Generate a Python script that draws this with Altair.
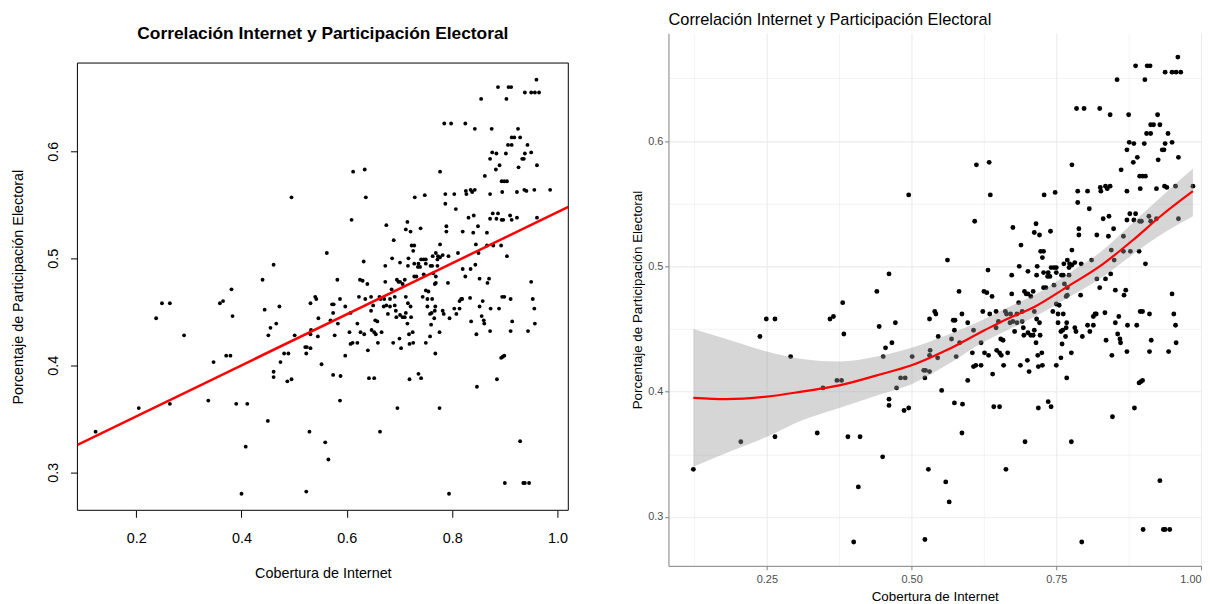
import altair as alt
import pandas as pd

# ---- data ----
cobertura = [
    0.461, 0.440, 0.249, 0.264, 0.359, 0.365, 0.381, 0.238, 0.444, 0.472, 0.383, 0.466, 0.455, 0.451, 0.291,
    0.371, 0.379, 0.347, 0.474, 0.461, 0.461, 0.205, 0.264, 0.337, 0.390, 0.411, 0.123, 0.450, 0.408, 0.400,
    0.612, 0.634, 0.495, 0.636, 0.729, 0.609, 0.675, 0.715, 0.712, 0.721, 0.689, 0.723, 0.728, 0.726, 0.562,
    0.632, 0.686, 0.701, 0.717, 0.673, 0.716, 0.728, 0.582, 0.625, 0.630, 0.639, 0.673, 0.695, 0.698, 0.701,
    0.706, 0.710, 0.685, 0.728, 0.540, 0.542, 0.587, 0.623, 0.635, 0.646, 0.662, 0.664, 0.671, 0.682, 0.691,
    0.712,
    0.531, 0.572, 0.575, 0.597, 0.574, 0.546, 0.607, 0.569, 0.583, 0.620, 0.501, 0.532, 0.531, 0.524, 0.521,
    0.531, 0.523, 0.545, 0.577, 0.605, 0.481, 0.489, 0.495, 0.487, 0.552, 0.597, 0.574, 0.588, 0.587, 0.529,
    0.559, 0.565, 0.523, 0.663, 0.696, 0.642, 0.652, 0.719, 0.640, 0.607, 0.611, 0.620, 0.626, 0.633, 0.647,
    0.652, 0.655, 0.666, 0.659, 0.654, 0.658, 0.646, 0.650, 0.670, 0.675, 0.682, 0.691, 0.678, 0.693, 0.694,
    0.701, 0.706, 0.710, 0.715, 0.712, 0.722, 0.725, 0.716, 0.721, 0.700, 0.703, 0.688, 0.718, 0.719, 0.726,
    0.960, 0.887, 0.907, 0.912, 0.938, 0.950, 0.957, 0.965, 0.855, 0.903, 0.785, 0.798, 0.825, 0.843, 0.875,
    0.925, 0.913, 0.918, 0.929, 0.906, 0.913, 0.943, 0.876, 0.884, 0.902, 0.938, 0.950, 0.933, 0.936, 0.872,
    0.890, 0.961, 0.883, 0.926, 0.777, 0.862, 0.894, 0.899, 0.904, 0.748, 0.787, 0.804, 0.826, 0.827, 0.835,
    0.838, 0.843, 0.872, 0.895, 0.923, 0.937, 0.941, 0.956, 0.986,
    0.787, 0.807, 0.740, 0.789, 0.789, 0.820, 0.831, 0.841, 0.849, 0.840, 0.866, 0.872, 0.877, 0.887, 0.884,
    0.894, 0.897, 0.910, 0.913, 0.923, 0.961, 0.777, 0.845, 0.866, 0.878, 0.893, 0.850, 0.811, 0.793, 0.769,
    0.763, 0.773, 0.772, 0.782, 0.777, 0.904, 0.741, 0.746, 0.750, 0.736, 0.735, 0.739, 0.750, 0.759, 0.762,
    0.772, 0.746, 0.764, 0.732, 0.769, 0.820, 0.835, 0.844, 0.825, 0.852, 0.870, 0.867, 0.792, 0.767, 0.769,
    0.750, 0.755, 0.744, 0.753, 0.762, 0.753, 0.768, 0.767, 0.761, 0.758, 0.766, 0.760, 0.782, 0.784, 0.776,
    0.795, 0.804, 0.808, 0.814, 0.814, 0.817, 0.819, 0.834, 0.858, 0.852, 0.873, 0.889, 0.895, 0.899, 0.911,
    0.953, 0.950, 0.956, 0.957, 0.944, 0.911, 0.914, 0.856, 0.860, 0.861, 0.836, 0.872, 0.846,
    0.758, 0.750, 0.768, 0.893, 0.896, 0.899, 0.736, 0.741, 0.847, 0.885, 0.776, 0.929, 0.900, 0.935, 0.938,
    0.946, 0.794,
]
participacion = [
    0.494, 0.480, 0.458, 0.458, 0.458, 0.460, 0.471, 0.444, 0.452, 0.455, 0.446, 0.439, 0.435, 0.428, 0.428,
    0.409, 0.409, 0.403, 0.403, 0.394, 0.389, 0.360, 0.364, 0.367, 0.364, 0.364, 0.338, 0.348, 0.324, 0.280,
    0.581, 0.583, 0.557, 0.557, 0.557, 0.536, 0.531, 0.534, 0.527, 0.525, 0.517, 0.512, 0.512, 0.507, 0.505,
    0.497, 0.500, 0.496, 0.500, 0.493, 0.493, 0.495, 0.480, 0.480, 0.479, 0.476, 0.478, 0.480, 0.478, 0.478,
    0.476, 0.480, 0.471, 0.483, 0.464, 0.462, 0.462, 0.464, 0.462, 0.464, 0.464, 0.462, 0.462, 0.462, 0.464,
    0.464,
    0.458, 0.457, 0.457, 0.455, 0.449, 0.444, 0.449, 0.442, 0.439, 0.439, 0.428, 0.433, 0.429, 0.417, 0.417,
    0.416, 0.411, 0.427, 0.428, 0.431, 0.411, 0.411, 0.387, 0.385, 0.401, 0.409, 0.391, 0.390, 0.367, 0.338,
    0.328, 0.312, 0.282, 0.338, 0.360, 0.388, 0.388, 0.387, 0.414, 0.420, 0.421, 0.421, 0.431, 0.429, 0.433,
    0.431, 0.429, 0.431, 0.421, 0.442, 0.441, 0.451, 0.456, 0.455, 0.456, 0.455, 0.456, 0.448, 0.451, 0.445,
    0.447, 0.445, 0.445, 0.439, 0.449, 0.445, 0.431, 0.458, 0.455, 0.425, 0.416, 0.421, 0.429, 0.420, 0.421,
    0.667, 0.660, 0.660, 0.660, 0.655, 0.655, 0.655, 0.655, 0.649, 0.649, 0.626, 0.626, 0.626, 0.621, 0.621,
    0.621, 0.613, 0.613, 0.613, 0.606, 0.606, 0.606, 0.599, 0.598, 0.598, 0.598, 0.599, 0.593, 0.593, 0.593,
    0.587, 0.587, 0.583, 0.585, 0.581, 0.577, 0.572, 0.572, 0.572, 0.559, 0.560, 0.560, 0.563, 0.560, 0.564,
    0.562, 0.564, 0.560, 0.562, 0.562, 0.564, 0.563, 0.564, 0.564,
    0.551, 0.546, 0.528, 0.530, 0.525, 0.525, 0.538, 0.540, 0.530, 0.524, 0.524, 0.537, 0.542, 0.542, 0.537,
    0.536, 0.536, 0.540, 0.536, 0.538, 0.538, 0.513, 0.513, 0.512, 0.512, 0.512, 0.505, 0.505, 0.502, 0.505,
    0.502, 0.502, 0.499, 0.503, 0.501, 0.502, 0.499, 0.499, 0.499, 0.495, 0.492, 0.492, 0.495, 0.493, 0.493,
    0.493, 0.485, 0.486, 0.483, 0.483, 0.490, 0.490, 0.494, 0.483, 0.481, 0.481, 0.477, 0.477, 0.476, 0.477,
    0.470, 0.469, 0.464, 0.462, 0.462, 0.455, 0.455, 0.451, 0.449, 0.448, 0.444, 0.438, 0.451, 0.448, 0.431,
    0.444, 0.453, 0.448, 0.453, 0.460, 0.462, 0.462, 0.463, 0.460, 0.455, 0.453, 0.453, 0.464, 0.464, 0.462,
    0.462, 0.478, 0.453, 0.439, 0.432, 0.432, 0.441, 0.446, 0.442, 0.439, 0.441, 0.432, 0.429,
    0.427, 0.421, 0.411, 0.407, 0.408, 0.409, 0.392, 0.388, 0.380, 0.387, 0.360, 0.329, 0.290, 0.290, 0.290,
    0.290, 0.280,
]

# smoothed curve (loess) and its confidence band
fit_x = [0.123, 0.18, 0.25, 0.31, 0.375, 0.44, 0.50, 0.56, 0.626, 0.665, 0.7135, 0.77, 0.828, 0.885, 0.93, 0.986]
fit_y = [0.395, 0.394, 0.396, 0.400, 0.405, 0.413, 0.421, 0.433, 0.449, 0.458, 0.468, 0.484, 0.501, 0.522, 0.540, 0.560]
fit_lo = [0.340, 0.351, 0.364, 0.377, 0.387, 0.397, 0.406, 0.421, 0.440, 0.449, 0.460, 0.475, 0.491, 0.5105, 0.525, 0.540]
fit_hi = [0.450, 0.442, 0.432, 0.426, 0.424, 0.428, 0.435, 0.445, 0.458, 0.467, 0.4775, 0.494, 0.512, 0.536, 0.555, 0.578]

titulo = "Correlación Internet y Participación Electoral"
x_titulo = "Cobertura de Internet"
y_titulo = "Porcentaje de Participación Electoral"
left_x_ticks = [0.2, 0.4, 0.6, 0.8, 1.0]
left_y_ticks = [0.3, 0.4, 0.5, 0.6]
right_x_grid = [0.125, 0.25, 0.375, 0.5, 0.625, 0.75, 0.875, 1.0]
right_y_grid = [0.3, 0.35, 0.4, 0.45, 0.5, 0.55, 0.6, 0.65]

# plotting region of the base-R panel (its box)
XL = [0.0885, 1.0205]
YL = [0.2645, 0.6825]

df = pd.DataFrame({"cobertura": cobertura, "participacion": participacion})
smooth = pd.DataFrame({"cobertura": fit_x, "participacion": fit_y, "lo": fit_lo, "hi": fit_hi})
box = pd.DataFrame({"x0": [XL[0]], "x1": [XL[1]], "y0": [YL[0]], "y1": [YL[1]]})

FONT = "Liberation Sans"

# ---------------- left panel (base R style) ----------------
BOX_H = 451
TOP_GAP = 30  # room above the box for the title
YL_VIEW = [YL[0], YL[1] + (YL[1] - YL[0]) * TOP_GAP / BOX_H]

ax_lx = alt.Axis(values=left_x_ticks, format=".1f", title=x_titulo, grid=False, domain=False,
                 tickSize=7, tickColor="black", tickWidth=1, labelFontSize=14.5, labelColor="black",
                 labelFont=FONT, labelPadding=14, titleFont=FONT, titleFontSize=14.5,
                 titleFontWeight="normal", titleColor="black", titlePadding=22)
ax_ly = alt.Axis(values=left_y_ticks, format=".1f", title=y_titulo, grid=False, domain=False,
                 tickSize=7, tickColor="black", tickWidth=1, labelFontSize=14.5, labelColor="black",
                 labelFont=FONT, labelAngle=270, labelAlign="center", labelBaseline="bottom",
                 labelPadding=10.5, titleFont=FONT, titleFontSize=14.5, titleFontWeight="normal",
                 titleColor="black", titlePadding=20, titleY=TOP_GAP + BOX_H / 2)

sxl = alt.Scale(domain=XL, nice=False, zero=False)
syl = alt.Scale(domain=YL_VIEW, nice=False, zero=False)
xl = alt.X("cobertura:Q", scale=sxl, axis=ax_lx)
yl = alt.Y("participacion:Q", scale=syl, axis=ax_ly)

frame_l = alt.Chart(box).mark_rect(filled=False, stroke="black", strokeWidth=1).encode(
    x=alt.X("x0:Q", scale=sxl, axis=ax_lx),
    x2="x1:Q",
    y=alt.Y("y0:Q", scale=syl, axis=ax_ly),
    y2="y1:Q",
)
pts_l = alt.Chart(df).mark_circle(size=15, color="black", opacity=1).encode(x=xl, y=yl)
reg_l = (
    alt.Chart(df)
    .transform_regression("cobertura", "participacion", extent=XL)
    .mark_line(color="red", strokeWidth=2.5, clip=True)
    .encode(x=xl, y=yl)
)
left = alt.layer(frame_l, pts_l, reg_l).properties(
    width=495,
    height=BOX_H + TOP_GAP,
    title=alt.TitleParams(text=titulo, font=FONT, fontSize=17.5, fontWeight="bold",
                          color="black", anchor="middle", frame="group", offset=-9),
)

# ---------------- right panel (ggplot style) ----------------
XR = [0.08, 1.0]
YR = [0.261, 0.686]
major_x = "indexof([0.25, 0.5, 0.75, 1], datum.value) >= 0"
major_y = "indexof([0.3, 0.4, 0.5, 0.6], datum.value) >= 0"

ax_rx = alt.Axis(values=right_x_grid, title=x_titulo,
                 labelExpr=f"{major_x} ? format(datum.value, '.2f') : ''",
                 grid=True, gridColor="#ebebeb",
                 gridWidth={"condition": {"test": major_x, "value": 1.1}, "value": 0.6},
                 domain=True, domainColor="#7f7f7f", domainWidth=1,
                 tickSize=4, tickColor="#7f7f7f",
                 tickOpacity={"condition": {"test": major_x, "value": 1}, "value": 0},
                 labelFont=FONT, labelFontSize=11, labelColor="#4d4d4d", labelPadding=4,
                 labelFlush=True,
                 titleFont=FONT, titleFontSize=13.5, titleFontWeight="normal", titleColor="black",
                 titlePadding=5)
ax_ry = alt.Axis(values=right_y_grid, title=y_titulo,
                 labelExpr=f"{major_y} ? format(datum.value, '.1f') : ''",
                 grid=True, gridColor="#ebebeb",
                 gridWidth={"condition": {"test": major_y, "value": 1.1}, "value": 0.6},
                 domain=True, domainColor="#7f7f7f", domainWidth=1,
                 tickSize=4, tickColor="#7f7f7f",
                 tickOpacity={"condition": {"test": major_y, "value": 1}, "value": 0},
                 labelFont=FONT, labelFontSize=11, labelColor="#4d4d4d", labelPadding=1.7,
                 titleFont=FONT, titleFontSize=13.5, titleFontWeight="normal", titleColor="black",
                 titlePadding=3)

sx = alt.Scale(domain=XR, nice=False, zero=False)
sy = alt.Scale(domain=YR, nice=False, zero=False)

pts_r = alt.Chart(df).mark_circle(size=24, color="black", opacity=1).encode(
    x=alt.X("cobertura:Q", scale=sx, axis=ax_rx),
    y=alt.Y("participacion:Q", scale=sy, axis=ax_ry),
)
band_r = alt.Chart(smooth).mark_area(color="#999999", opacity=0.4, interpolate="monotone").encode(
    x=alt.X("cobertura:Q", scale=sx, axis=ax_rx),
    y=alt.Y("lo:Q", scale=sy, axis=ax_ry),
    y2="hi:Q",
)
line_r = alt.Chart(smooth).mark_line(color="red", strokeWidth=2.2, interpolate="monotone").encode(
    x=alt.X("cobertura:Q", scale=sx, axis=ax_rx),
    y=alt.Y("participacion:Q", scale=sy, axis=ax_ry),
)
right = alt.layer(pts_r, band_r, line_r).properties(
    width=537,
    height=537,
    title=alt.TitleParams(text=titulo, font=FONT, fontSize=16.5, fontWeight="normal",
                          color="black", anchor="start", frame="group", offset=5),
)

chart = (
    alt.hconcat(left, right, spacing=62)
    .properties(padding={"left": 2, "top": 1, "right": 0, "bottom": 0}, background="white")
    .configure_view(strokeWidth=0)
)

chart.save("out.html", embed_options={"renderer": "svg", "actions": False})
